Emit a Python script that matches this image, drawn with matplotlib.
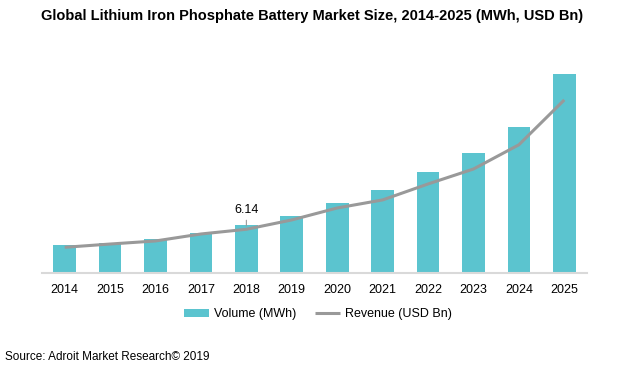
import matplotlib.pyplot as plt
import numpy as np

plt.rcParams['font.family'] = ['Liberation Sans', 'DejaVu Sans']

years = ['2014', '2015', '2016', '2017', '2018', '2019',
         '2020', '2021', '2022', '2023', '2024', '2025']
volume_mwh = [2.8, 3.0, 3.4, 4.0, 4.8, 5.7, 7.0, 8.3, 10.1, 12.0, 14.6, 19.9]
revenue_usd_bn = [3.61, 4.07, 4.50, 5.48, 6.14, 7.45, 9.13, 10.26, 12.5, 14.6, 18.0, 24.3]

bar_color = '#5bc4cf'
line_color = '#999999'

fig = plt.figure(figsize=(6.24, 3.74), dpi=100)
ax = fig.add_axes([0.0673, 0.27, 0.8734, 0.5695])
x = np.arange(len(years))

bars = ax.bar(x, volume_mwh, width=0.5, color=bar_color, label='Volume (MWh)', zorder=2)
ax.set_xlim(-0.5, len(years) - 0.5)
ax.set_ylim(0, 21.3)

ax2 = ax.twinx()
line, = ax2.plot(x, revenue_usd_bn, color=line_color, lw=2.2, label='Revenue (USD Bn)',
                 solid_capstyle='butt', zorder=3)
ax2.set_ylim(0, 29.9)

for a in (ax, ax2):
    for s in ('top', 'right', 'left'):
        a.spines[s].set_visible(False)
    a.set_yticks([])
ax2.spines['bottom'].set_visible(False)
ax.spines['bottom'].set_color('#d9d9d9')
ax.spines['bottom'].set_linewidth(1.5)

ax.set_xticks(x)
ax.set_xticklabels(years, fontsize=9, color='#000000')
ax.tick_params(axis='x', length=0, pad=8)

# data label for 2018
i = years.index('2018')
ax2.annotate(f'{revenue_usd_bn[i]:.2f}', xy=(x[i], revenue_usd_bn[i]),
             xytext=(0, 9.5), textcoords='offset points', ha='center', va='bottom',
             fontsize=9,
             arrowprops=dict(arrowstyle='-', color='#999999', lw=0.8, shrinkA=1, shrinkB=2.5))

fig.text(0.5, 0.958, 'Global Lithium Iron Phosphate Battery Market Size, 2014-2025 (MWh, USD Bn)',
         ha='center', va='center', fontsize=10.5, fontweight='bold')

fig.legend(handles=[bars, line], loc='center', bbox_to_anchor=(0.509, 0.16), ncol=2,
           frameon=False, fontsize=9, handlelength=2.0, handleheight=0.6,
           columnspacing=1.5, handletextpad=0.4)

fig.text(0.008, 0.046, 'Source: Adroit Market Research\u00a9 2019', ha='left', va='center',
         fontsize=8.5)

fig.savefig('out.png', dpi=100)
